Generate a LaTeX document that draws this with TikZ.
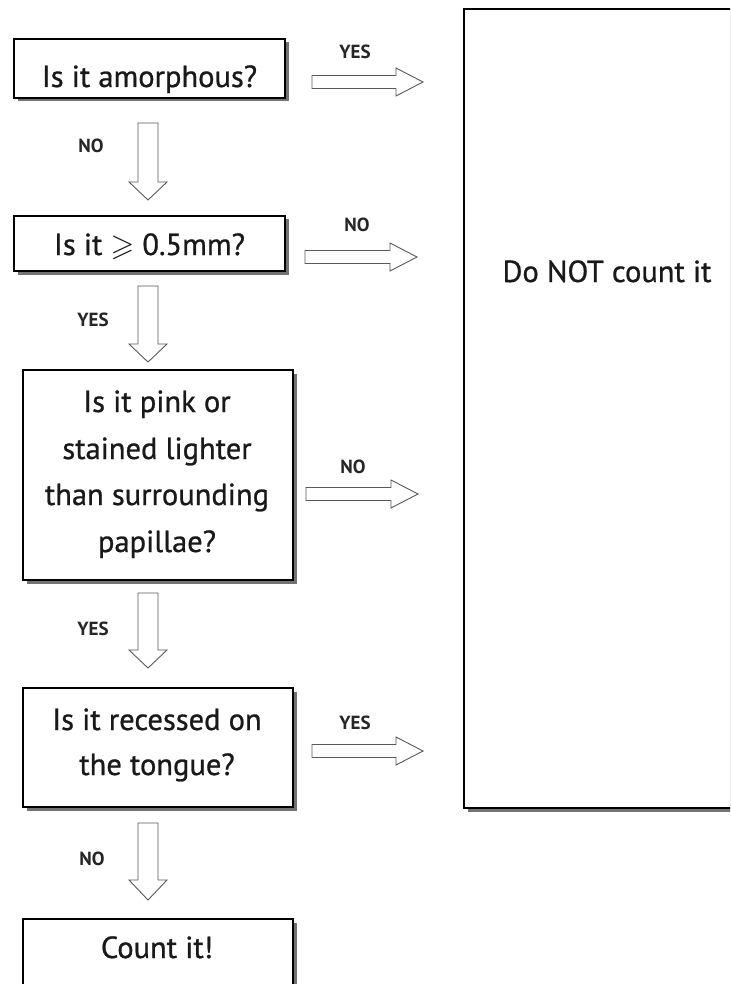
\documentclass[tikz,border=0pt]{standalone}
\usepackage{amssymb}
\usepackage{fontspec}
\setmainfont{PT Sans}
\newfontfamily\qfont{PT Sans}[FakeBold=0.8]
\tikzset{
  box/.style={draw=black, line width=1.2pt, fill=white, inner sep=0pt},
  shadowbox/.style={fill=black!55, draw=none},
  qtext/.style={anchor=base, inner sep=0pt, font=\qfont\fontsize{30.5}{34}\selectfont, text=black!90},
  lab/.style={anchor=base, inner sep=0pt, font=\bfseries\fontsize{19}{21}\selectfont, text=black!85},
  blockarrow/.style={draw=black!65, line width=0.9pt, fill=white, line join=miter},
}
\newcommand\harr[3]{% x1, x2, y
  \draw[blockarrow] (#1,#3-6.5) -- (#2-27,#3-6.5) -- (#2-27,#3-14) -- (#2,#3)
    -- (#2-27,#3+14) -- (#2-27,#3+6.5) -- (#1,#3+6.5) -- cycle;}
\newcommand\varr[3]{% y1, ybase, ytip
  \draw[blockarrow] (138,#1) -- (158,#1) -- (158,#2) -- (167,#2) -- (148,#3)
    -- (129,#2) -- (138,#2) -- cycle;}
\newcommand\shbox[5]{% name, x1, y1, x2, y2
  \fill[shadowbox] (#2+3.5,#3+3.5) rectangle (#4+3.5,#5+3.5);
  \path[box] (#2,#3) rectangle (#4,#5);
  \coordinate (#1) at ({(#2+#4)/2},{(#3+#5)/2});}
\begin{document}
\begin{tikzpicture}[x=1pt,y=-1pt]
\useasboundingbox (0,0) rectangle (730,984);
\fill[white] (0,0) rectangle (730,984);
\clip (0,0) rectangle (730,984);

% boxes
\shbox{b1}{14}{39}{285}{98}
\shbox{b2}{14}{216}{285}{271}
\shbox{b3}{23}{370}{293}{580}
\shbox{b4}{23}{688}{293}{807}
\shbox{b5}{23}{919}{293}{1010}
\shbox{big}{464}{9}{770}{808}

% box texts
\node[qtext] (t1) at (149.5,87) {Is it amorphous?};
\node[qtext] (t2) at (149.5,255) {Is it \(\geqslant\) 0.5mm?};
\node[qtext] (t3a) at (157,412) {Is it pink or};
\node[qtext] (t3b) at (157,459) {stained lighter};
\node[qtext] (t3c) at (157,505) {than surrounding};
\node[qtext] (t3d) at (157,552) {papillae?};
\node[qtext] (t4a) at (157,730) {Is it recessed on};
\node[qtext] (t4b) at (157,775) {the tongue?};
\node[qtext] (t5) at (157,958) {Count it!};
\node[qtext] (tbig) at (607,282) {Do NOT count it};

% horizontal arrows
\harr{312}{423}{82}
\harr{305}{417}{257}
\harr{306}{418}{494}
\harr{312}{423}{751}
\node[lab] (l1) at (355,59) {YES};
\node[lab] (l2) at (357,232) {NO};
\node[lab] (l3) at (353,473) {NO};
\node[lab] (l4) at (355,729) {YES};

% vertical arrows
\varr{123}{182}{200}
\varr{286}{344}{362}
\varr{593}{650}{668}
\varr{823}{880}{900}
\node[lab] (d1) at (91,153) {NO};
\node[lab] (d2) at (93,326) {YES};
\node[lab] (d3) at (93,635) {YES};
\node[lab] (d4) at (92,865) {NO};
\end{tikzpicture}
\end{document}
